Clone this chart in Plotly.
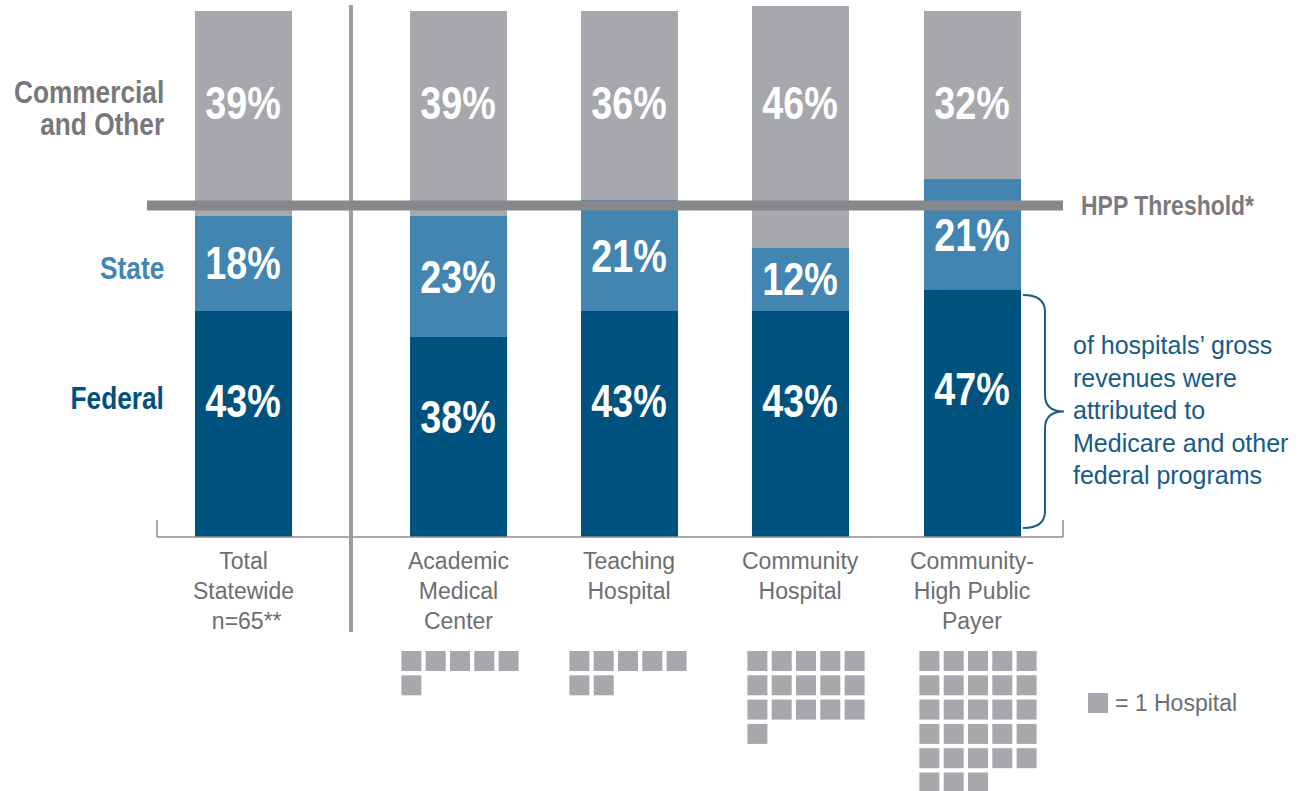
import plotly.graph_objects as go

# ---------------- data ----------------
categories = ["Total<br>Statewide<br> n=65**", "Academic<br>Medical<br>Center",
              "Teaching<br>Hospital", "Community<br>Hospital",
              "Community-<br>High Public<br>Payer"]
federal = [43, 38, 43, 43, 47]
state = [18, 23, 21, 12, 21]
commercial = [39, 39, 36, 46, 32]
hospital_counts = [6, 7, 16, 28]          # Academic, Teaching, Community, Community-HPP
hpp_threshold = 63
series_labels = ["Federal", "State", "Commercial<br>and Other"]
brace_text = ("of hospitals’ gross<br>revenues were<br>attributed to<br>"
              "Medicare and other<br>federal programs")

# ---------------- layout constants ----------------
W, H = 1301, 791
BASE_PX = 537          # pixel row of 0%
PX_PER_PCT = 5.26
bar_x = [243, 458, 629, 800, 972]      # bar centres (x axis in pixels)
icon_cx = [460, 628, 806, 978]
BAR_W = 97

C_FED = "#00527e"
C_STATE = "#4185b0"
C_COM = "#a7a8ac"
C_TXT = "#6d6e71"
C_LBL = "#77787b"
# "Narrow" texts get horizontally condensed in the page (post_script below)
NARROW = "Arial Narrow, Liberation Sans, Arial, sans-serif"
REG = "Liberation Sans, Arial, sans-serif"


def ypx(p):
    return (BASE_PX - p) / PX_PER_PCT


fig = go.Figure()
for vals, col in [(federal, C_FED), (state, C_STATE), (commercial, C_COM)]:
    fig.add_trace(go.Bar(x=bar_x, y=vals, width=BAR_W, marker=dict(color=col, line=dict(width=0)),
                         hoverinfo="skip", showlegend=False))

# hospital icons
ix, iy = [], []
PITCH = 24.3
for cx, n in zip(icon_cx, hospital_counts):
    for k in range(n):
        ix.append(cx + (k % 5 - 2) * PITCH)
        iy.append(ypx(661 + (k // 5) * PITCH))
ix.append(1098)
iy.append(ypx(703))
fig.add_trace(go.Scatter(x=ix, y=iy, mode="markers", hoverinfo="skip", showlegend=False,
                         marker=dict(symbol="square", size=20, color=C_COM, line=dict(width=0))))

ann = []
# percent labels
for i, x in enumerate(bar_x):
    f, s, c = federal[i], state[i], commercial[i]
    for val, yv in [(f, f * 0.6), (s, f + s * 0.5), (c, 82.5)]:
        ann.append(dict(x=x, y=yv, text=f"<b>{val}%</b>", showarrow=False, align="center",
                        font=dict(family=NARROW, size=46, color="white"),
                        xanchor="center", yanchor="middle"))
# left series labels (one annotation per line for tight line spacing)
for txt, ycen, col in [(series_labels[0], 398, C_FED), (series_labels[1], 268, C_STATE),
                       (series_labels[2], 108, C_LBL)]:
    lines = txt.split("<br>")
    for j, ln in enumerate(lines):
        yp = ycen + (j - (len(lines) - 1) / 2) * 32
        ann.append(dict(x=166, y=ypx(yp), text=f"<b>{ln}</b>", showarrow=False, align="right",
                        font=dict(family=NARROW, size=32, color=col), xanchor="right", yanchor="middle"))
# category labels
for x, cat in zip(bar_x, categories):
    ann.append(dict(x=x, y=ypx(546), text=cat, showarrow=False, align="center",
                    font=dict(family=REG, size=23, color=C_TXT), xanchor="center", yanchor="top"))
# threshold label
ann.append(dict(x=1079, y=hpp_threshold, text="<b>HPP Threshold*</b>", showarrow=False, align="left",
                font=dict(family=NARROW, size=28, color="#7a7b7e"), xanchor="left", yanchor="middle"))
# brace text
ann.append(dict(x=1071, y=ypx(410), text=brace_text, showarrow=False, align="left",
                font=dict(family=REG, size=25, color="#175b87"), xanchor="left", yanchor="middle"))
# icon legend
ann.append(dict(x=1113, y=ypx(703), text="= 1 Hospital", showarrow=False,
                font=dict(family=REG, size=23, color=C_TXT), xanchor="left", yanchor="middle"))

shapes = []
# baseline with end ticks
shapes.append(dict(type="line", xref="x", yref="y", x0=157, x1=1063, y0=0, y1=0,
                   line=dict(color="#8c8c8f", width=1.5), layer="above"))
for xe in (157, 1063):
    shapes.append(dict(type="line", xref="x", yref="y", x0=xe, x1=xe, y0=0, y1=ypx(520),
                       line=dict(color="#8c8c8f", width=1.5), layer="above"))
# separator
shapes.append(dict(type="line", xref="x", yref="y", x0=351, x1=351, y0=ypx(5), y1=ypx(632),
                   line=dict(color="#9c9da0", width=4), layer="above"))
# HPP threshold line
shapes.append(dict(type="line", xref="x", yref="y", x0=147, x1=1063, y0=hpp_threshold, y1=hpp_threshold,
                   line=dict(color="#87888b", width=10), layer="above"))
# brace next to last federal segment
yt, yb = ypx(295), ypx(528)
ym = (yt + yb) / 2
r = 3.2
path = (f"M 1023,{yt} Q 1045,{yt} 1045,{yt - r} L 1045,{ym + r} Q 1045,{ym} 1064,{ym} "
        f"Q 1045,{ym} 1045,{ym - r} L 1045,{yb + r} Q 1045,{yb} 1023,{yb}")
shapes.append(dict(type="path", xref="x", yref="y", path=path,
                   line=dict(color="#1d5c85", width=2), layer="above"))

fig.update_layout(
    width=W, height=H, margin=dict(l=0, r=0, t=0, b=0),
    barmode="stack", bargap=0,
    plot_bgcolor="white", paper_bgcolor="white",
    xaxis=dict(range=[0, W], visible=False, fixedrange=True),
    yaxis=dict(range=[ypx(H), ypx(0)], visible=False, fixedrange=True),
    annotations=ann, shapes=shapes, showlegend=False,
)

post = """
document.body.style.margin = '0';
document.querySelectorAll('g.annotation text').forEach(function (t) {
  var fam = t.style.fontFamily || t.getAttribute('style') || '';
  if (fam.indexOf('Narrow') < 0) return;
  var b = t.getBBox();
  var a = t.getAttribute('text-anchor') || 'middle';
  var px = a === 'start' ? b.x : (a === 'end' ? b.x + b.width : b.x + b.width / 2);
  t.setAttribute('transform', 'translate(' + px + ',0) scale(0.82,1) translate(' + (-px) + ',0)');
});
"""
fig.write_html("out.html", config={"displayModeBar": False}, post_script=post)
